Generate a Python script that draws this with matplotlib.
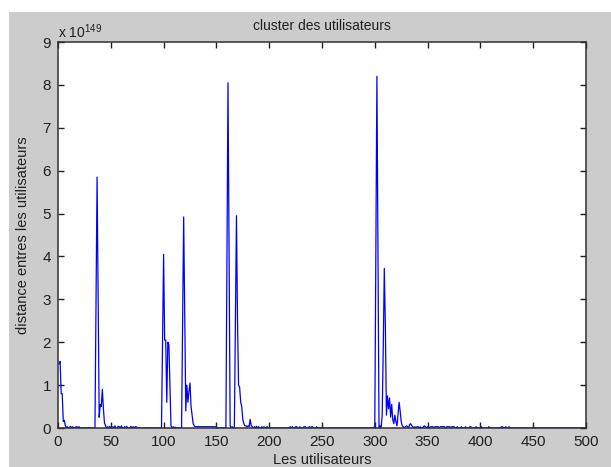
import numpy as np
import matplotlib
matplotlib.use('Agg')
import matplotlib.pyplot as plt
from matplotlib.ticker import ScalarFormatter, MultipleLocator
from matplotlib.patches import Rectangle

plt.rcParams['font.family'] = ['Liberation Sans', 'DejaVu Sans']

# values, in units of 1e149, rest of the users are 0
scale = 1e149
n_users = 500

seg_1_start = 1
seg_1 = [1.5, 1.55, 0.8, 0.8, 0.15, 0.18, 0.05, 0.0, 0.03, 0.0, 0.02, 0.04, 0.0,
         0.03, 0.0, 0.0, 0.03, 0.03, 0.0, 0.03, 0.0]
seg_2_start = 36
seg_2 = [2.9, 5.85, 3.05, 0.25, 0.55, 0.5, 0.9, 0.45, 0.12, 0.05, 0.0, 0.03, 0.0,
         0.04, 0.0, 0.0, 0.03, 0.0, 0.05, 0.0, 0.0, 0.04, 0.03, 0.0, 0.05, 0.0,
         0.0, 0.03, 0.0, 0.04, 0.0, 0.0, 0.0, 0.04, 0.0, 0.03, 0.0, 0.03, 0.03]
seg_3_start = 99
seg_3 = [2.05, 4.05, 2.05, 2.05, 0.6, 2.0, 1.95, 1.0, 0.05, 0.0, 0.03, 0.0, 0.02]
seg_4_start = 118
seg_4 = [2.45, 4.92, 2.55, 0.4, 1.0, 0.6, 0.85, 1.05, 0.5, 0.3, 0.1, 0.05, 0.03,
         0.03, 0.03, 0.03, 0.03, 0.03, 0.03, 0.03, 0.03, 0.03, 0.03, 0.03, 0.03,
         0.03, 0.03, 0.03, 0.03, 0.03, 0.03, 0.03]
seg_5_start = 160
seg_5 = [4.05, 8.05, 4.05, 0.05, 0.0, 0.03, 0.0, 0.0, 2.5, 4.95, 2.5, 1.0, 0.95,
         0.6, 0.5, 0.2, 0.1, 0.05, 0.05, 0.03, 0.05, 0.03, 0.2, 0.05, 0.03, 0.0,
         0.03, 0.0, 0.04, 0.0, 0.03, 0.0, 0.0, 0.03, 0.0, 0.03, 0.0, 0.0, 0.03]
seg_6_start = 220
seg_6 = [0.03, 0.0, 0.03, 0.0, 0.0, 0.03, 0.03, 0.0, 0.0, 0.03, 0.0, 0.0, 0.0,
         0.03, 0.03, 0.0, 0.0, 0.0, 0.03, 0.0, 0.03, 0.03, 0.0, 0.0, 0.0, 0.03]
seg_7_start = 300
seg_7 = [0.05, 4.05, 8.2, 4.05, 0.0, 0.05, 0.0, 0.3, 1.85, 3.72, 2.4, 0.3, 0.75,
         0.45, 0.7, 0.25, 0.55, 0.2, 0.1, 0.3, 0.15, 0.05, 0.3, 0.6, 0.4, 0.15,
         0.05, 0.03, 0.0, 0.03, 0.05, 0.03, 0.0, 0.08, 0.1, 0.05, 0.03, 0.0, 0.03,
         0.0, 0.03, 0.03, 0.0, 0.03, 0.0, 0.0, 0.03, 0.05, 0.03]
seg_8_start = 350
seg_8 = [0.03, 0.03, 0.0, 0.03, 0.03, 0.03, 0.0, 0.03, 0.03, 0.03, 0.03, 0.0,
         0.03, 0.03, 0.03, 0.03, 0.03, 0.0, 0.03, 0.03, 0.03, 0.03, 0.0, 0.03,
         0.03, 0.03, 0.0, 0.0, 0.03, 0.0, 0.0, 0.0, 0.03, 0.0, 0.0, 0.0, 0.03,
         0.0, 0.0, 0.0, 0.03, 0.03, 0.0, 0.0, 0.0, 0.0, 0.03, 0.0, 0.0, 0.0,
         0.0, 0.03, 0.0, 0.0, 0.0, 0.0, 0.0, 0.0, 0.03, 0.0, 0.0, 0.0, 0.0,
         0.0, 0.0, 0.0, 0.0, 0.0, 0.0, 0.0, 0.03, 0.03, 0.0, 0.0, 0.03, 0.0,
         0.0, 0.03]

segments = [(seg_1_start, seg_1), (seg_2_start, seg_2), (seg_3_start, seg_3),
            (seg_4_start, seg_4), (seg_5_start, seg_5), (seg_6_start, seg_6),
            (seg_7_start, seg_7), (seg_8_start, seg_8)]

users = np.arange(1, n_users + 1)
dist = np.zeros(n_users)
for start, seg in segments:
    dist[start - 1:start - 1 + len(seg)] = seg
dist = dist * scale


class MatlabExp(ScalarFormatter):
    # matlab style "x 10^N" above the axis
    def get_offset(self):
        if self.orderOfMagnitude == 0:
            return ''
        return r'x $\mathregular{10^{%d}}$' % self.orderOfMagnitude


W, H = 611, 467
fig = plt.figure(figsize=(W / 100, H / 100), dpi=100, facecolor='white')
fig.patches.append(Rectangle((9 / W, 0), 1, (H - 12) / H, transform=fig.transFigure,
                             facecolor='#cccccc', edgecolor='none', zorder=-10))
ax = fig.add_axes([58 / W, 39 / H, 528 / W, 386 / H])
ax.set_facecolor('white')

ax.plot(users, dist, color=(0, 0, 1), lw=0.9)

ax.set_xlim(0, 500)
ax.set_ylim(0, 9 * scale)
ax.xaxis.set_major_locator(MultipleLocator(50))
ax.yaxis.set_major_locator(MultipleLocator(scale))
fmt = MatlabExp(useMathText=False)
fmt.set_useOffset(False)
ax.yaxis.set_major_formatter(fmt)
ax.yaxis.get_offset_text().set_fontsize(10)
ax.yaxis.get_offset_text().set_color('#202020')

ax.tick_params(direction='in', top=True, right=True, length=4, width=1,
               colors='#202020', labelsize=11, pad=5)
for s in ax.spines.values():
    s.set_color('#303030')
    s.set_linewidth(1.1)

ax.set_title('cluster des utilisateurs', fontsize=10, color='#202020', pad=9)
ax.set_xlabel('Les utilisateurs', fontsize=10.5, color='#202020', labelpad=3)
ax.set_ylabel('distance entres les utilisateurs', fontsize=10.5, color='#202020', labelpad=9)

fig.savefig('out.png', dpi=100, facecolor=fig.get_facecolor())
